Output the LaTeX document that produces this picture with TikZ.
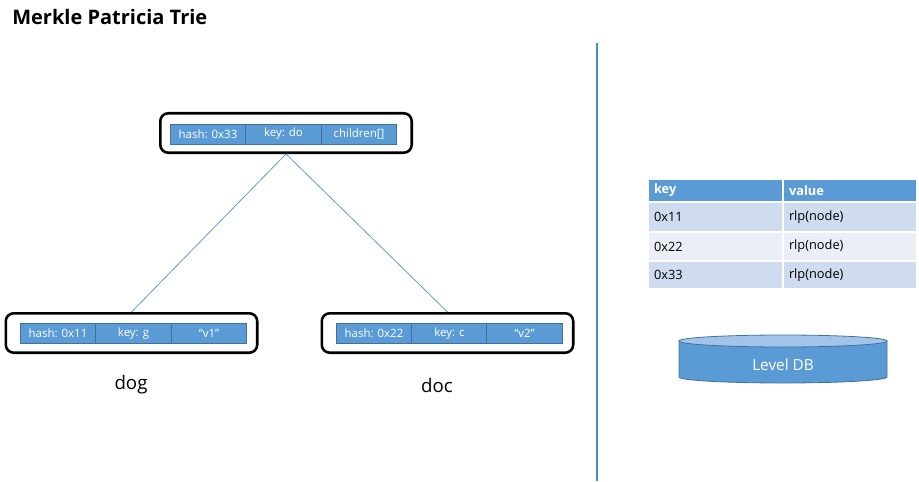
\documentclass[tikz,border=0pt]{standalone}
\usepackage{fontspec}
\setmainfont{Open Sans}
\definecolor{cblue}{HTML}{5B9BD5}
\definecolor{cdark}{HTML}{41719C}
\definecolor{csep}{HTML}{4A8CC8}
\definecolor{rowA}{HTML}{CFDBEE}
\definecolor{rowB}{HTML}{E9EEF7}
\definecolor{ctop}{HTML}{A3C4E8}
\begin{document}
\begin{tikzpicture}[x=0.75pt,y=-0.75pt,
  cell/.style={draw=cdark, line width=0.5pt, fill=cblue, text=white, inner sep=0pt,
    minimum height=15pt, minimum width=56.6pt, font=\fontsize{8.6}{10}\selectfont},
  outer/.style={draw=black, line width=1.9pt, rounded corners=6pt, inner sep=0pt,
    minimum width=188.6pt, minimum height=29.6pt},
  link/.style={draw=cblue, line width=0.6pt},
  tcell/.style={fill=#1, draw=white, line width=1.2pt, inner xsep=4.5pt, inner ysep=0pt,
    align=left, font=\fontsize{9.6}{11.5}\selectfont},
  lbl/.style={font=\fontsize{14}{16.8}\selectfont}
]
\useasboundingbox (0,0) rectangle (919,481);

% title
\node[anchor=base west, inner sep=0pt, font=\fontsize{15}{18}\selectfont\bfseries] (title) at (12,25) {Merkle Patricia Trie};

% top node
\node[outer] (top) at (286,133) {};
\node[cell] (t1) at (208,134) {hash: 0x33};
\node[cell] (t2) at (283.5,134) {key: do};
\node[cell] (t3) at (359,134) {children[]};

% left node
\node[outer] (left) at (131.5,333) {};
\node[cell] (l1) at (58,333.5) {hash: 0x11};
\node[cell] (l2) at (133.5,333.5) {key: g};
\node[cell] (l3) at (209,333.5) {“v1”};
\node[lbl] (dog) at (131,385) {dog};

% right node
\node[outer] (right) at (447.5,333) {};
\node[cell] (r1) at (374,333.5) {hash: 0x22};
\node[cell] (r2) at (449.5,333.5) {key: c};
\node[cell] (r3) at (524.5,333.5) {“v2”};
\node[lbl] (doc) at (437,385) {doc};

% connectors
\draw[link] (top.south) -- (left.north);
\draw[link] (top.south) -- (right.north);

% separator
\coordinate (s1) at (597,43);
\coordinate (s2) at (597,481);
\draw[draw=csep, line width=0.8pt] (s1) -- (s2);

% table
\node[tcell=cblue, text=white, font=\fontsize{9.6}{11.5}\selectfont\bfseries, text width=92.25pt, minimum height=17.25pt] (hk) at (715.5,190.5) {key};
\node[tcell=cblue, text=white, font=\fontsize{9.6}{11.5}\selectfont\bfseries, text width=91.5pt, minimum height=17.25pt] (hv) at (850,190.5) {value};
\node[tcell=rowA, text width=92.25pt, minimum height=22.5pt] (k1) at (715.5,217) {0x11};
\node[tcell=rowA, text width=91.5pt, minimum height=22.5pt] (v1) at (850,217) {rlp(node)};
\node[tcell=rowB, text width=92.25pt, minimum height=21.75pt] (k2) at (715.5,246.5) {0x22};
\node[tcell=rowB, text width=91.5pt, minimum height=21.75pt] (v2) at (850,246.5) {rlp(node)};
\node[tcell=rowA, text width=92.25pt, minimum height=21pt] (k3) at (715.5,275) {0x33};
\node[tcell=rowA, text width=91.5pt, minimum height=21pt] (v3) at (850,275) {rlp(node)};

% cylinder
\filldraw[fill=cblue, draw=cdark, line width=0.6pt] (679,341) -- (679,377)
  arc[start angle=180, end angle=360, x radius=78pt, y radius=4.5pt] -- (887,341) -- cycle;
\filldraw[fill=ctop, draw=cdark, line width=0.6pt] (783,341) ellipse[x radius=78pt, y radius=4.5pt];
\node[text=white, font=\fontsize{11.5}{13.8}\selectfont] (db) at (783,365) {Level DB};
\end{tikzpicture}
\end{document}
